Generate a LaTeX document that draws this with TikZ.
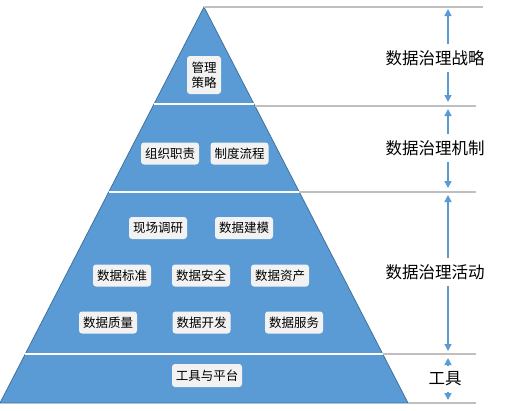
\documentclass[tikz,border=0pt]{standalone}
\usepackage{fontspec}
\setmainfont{Noto Sans CJK SC}
\usetikzlibrary{arrows.meta,calc}
\definecolor{pblue}{HTML}{5B9BD5}
\definecolor{pedge}{HTML}{41719C}
\definecolor{gline}{HTML}{BFBFBF}
\definecolor{boxfill}{HTML}{F2F2F2}
\begin{document}
\begin{tikzpicture}[x=1pt,y=-1pt,
  item/.style={fill=boxfill, rounded corners=3pt, font=\fontsize{12.5}{15}\selectfont, inner sep=0pt, minimum height=22pt, minimum width=58pt, text=black},
  level/.style={fill=white, font=\fontsize{16.5}{18}\selectfont, inner xsep=1pt, inner ysep=6pt, text=black},
  guide/.style={draw=gline, line width=2pt},
  sep/.style={draw=white, line width=2pt},
  dim/.style={draw=pblue, line width=1.5pt, {Triangle[length=7pt,width=7pt]}-{Triangle[length=7pt,width=7pt]}}
]
\useasboundingbox (0,0) rectangle (505,410);
% pyramid
\coordinate (apex) at (204,7);
\coordinate (bl) at (0,403);
\coordinate (br) at (408,403);
\fill[pblue] (apex) -- (br) -- (bl) -- cycle;
\draw[pedge, line width=0.8pt] (apex) -- (br) -- (bl) -- cycle;
% separators
\coordinate (w1l) at ($(apex)!0.2449!(bl)$);
\coordinate (w1r) at ($(apex)!0.2449!(br)$);
\coordinate (w2l) at ($(apex)!0.4672!(bl)$);
\coordinate (w2r) at ($(apex)!0.4672!(br)$);
\coordinate (w3l) at ($(apex)!0.8763!(bl)$);
\coordinate (w3r) at ($(apex)!0.8763!(br)$);
\draw[sep] (w1l) -- (w1r);
\draw[sep] (w2l) -- (w2r);
\draw[sep] (w3l) -- (w3r);
% guide lines
\coordinate (g1) at ($(apex)!0.2500!(br)$);
\coordinate (gend) at (476,0);
\coordinate (gtop) at (483,7);
\draw[guide] (apex) -- (gtop);
\draw[guide] (g1) -- (g1 -| gend);
\draw[guide] (w2r) -- (w2r -| gend);
\draw[guide] (w3r) -- (w3r -| gend);
\draw[guide] (br) -- (br -| gend);
% arrows
\coordinate (a1t) at (448,9);
\coordinate (a1b) at (448,102);
\coordinate (a2t) at (448,109);
\coordinate (a2b) at (448,188);
\coordinate (a3t) at (448,195);
\coordinate (a3b) at (448,351);
\coordinate (a4t) at (448,358);
\coordinate (a4b) at (448,400);
\draw[dim] (a1t) -- (a1b);
\draw[dim] (a2t) -- (a2b);
\draw[dim] (a3t) -- (a3b);
\draw[dim] (a4t) -- (a4b);
\node[level] (l1) at (435,58) {数据治理战略};
\node[level] (l2) at (435,148) {数据治理机制};
\node[level] (l3) at (435,272) {数据治理活动};
\node[level] (l4) at (445,379) {工具};
% items
\node[item, minimum width=34pt, minimum height=38pt, align=center, font=\fontsize{12.5}{15.5}\selectfont] (s1) at (204,75) {管理\\策略};
\node[item] (m1) at (170,153.5) {组织职责};
\node[item] (m2) at (239.5,153.5) {制度流程};
\node[item] (x1) at (158,228) {现场调研};
\node[item] (x2) at (244,228) {数据建模};
\node[item] (x3) at (122,275.5) {数据标准};
\node[item] (x4) at (201,275.5) {数据安全};
\node[item] (x5) at (280,275.5) {数据资产};
\node[item] (x6) at (108,322.5) {数据质量};
\node[item] (x7) at (201.5,322.5) {数据开发};
\node[item] (x8) at (294,322.5) {数据服务};
\node[item, minimum width=70pt, minimum height=23pt] (t1) at (207,375.5) {工具与平台};
\end{tikzpicture}
\end{document}
